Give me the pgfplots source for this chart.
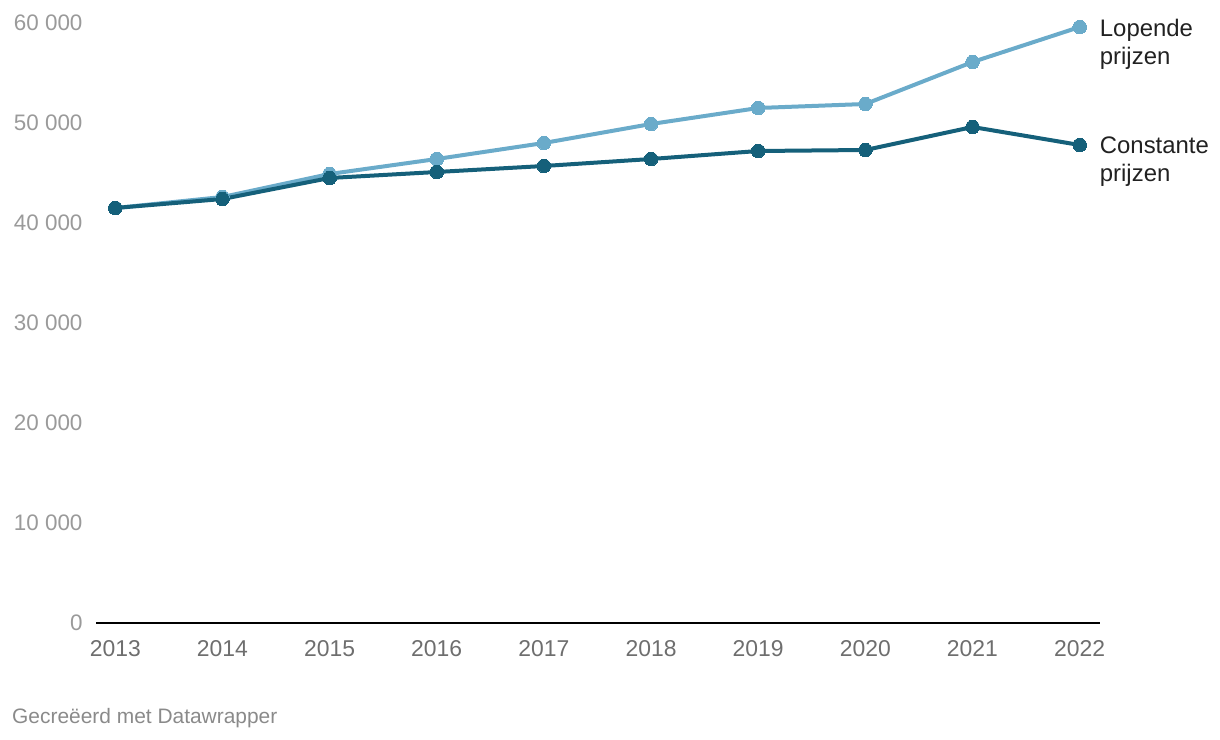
\documentclass[border=0pt]{standalone}
\usepackage{pgfplots}
\pgfplotsset{compat=1.18}
\usepackage{fontspec}
\setmainfont{Liberation Sans}
\definecolor{lightb}{HTML}{6AABCA}
\definecolor{darkb}{HTML}{15607A}
\definecolor{gridc}{HTML}{E3E3E3}
\definecolor{ylab}{HTML}{9A9A9A}
\definecolor{xlab}{HTML}{6E6E6E}
\definecolor{foot}{HTML}{8A8A8A}
\begin{document}
\begin{tikzpicture}
\path[use as bounding box] (0bp,0bp) rectangle (1220bp,740bp);
\begin{axis}[
  at={(96bp,117bp)}, anchor=south west,
  scale only axis, width=1004bp, height=600bp,
  xmin=2012.82, xmax=2022.19,
  ymin=0, ymax=60000,
  clip=false,
  axis line style={draw=none},
  axis x line*=bottom,
  axis y line=none,
  ytick={10000,20000,30000,40000,50000,60000},
  xtick={2013,...,2022},
  tick style={draw=none},
  ymajorgrids, grid style={gridc, line width=1.5bp},
  /pgf/number format/assume math mode=true,
  /pgf/number format/1000 sep={\ },
  xticklabel={\pgfmathprintnumber[1000 sep={}]{\tick}},
  xticklabel style={font=\fontsize{23}{27}\selectfont, text=xlab, anchor=north, yshift=-14bp},
  every axis plot/.append style={line width=4bp},
]
\addplot[draw=none, forget plot] coordinates {(2013,0)};
\draw[black, line width=2bp] (axis cs:2012.82,0) -- (axis cs:2022.19,0);
\foreach \v/\l in {0/0,10000/10 000,20000/20 000,30000/30 000,40000/40 000,50000/50 000,60000/60 000}{
  \edef\tmp{\noexpand\node[anchor=east, text=ylab, font=\noexpand\fontsize{22.5}{26}\noexpand\selectfont] at (axis cs:2012.82,\v) [xshift=-10bp] {\l};}
  \tmp
}
\addplot[color=lightb, mark=*, mark size=6.8bp, mark options={line width=0bp, fill=lightb}] coordinates {
(2013,41500) (2014,42600) (2015,44900) (2016,46400) (2017,48000)
(2018,49900) (2019,51500) (2020,51900) (2021,56100) (2022,59600)};
\addplot[color=darkb, mark=*, mark size=6.8bp, mark options={line width=0bp, fill=darkb}] coordinates {
(2013,41500) (2014,42400) (2015,44500) (2016,45100) (2017,45700)
(2018,46400) (2019,47200) (2020,47300) (2021,49600) (2022,47800)};
\node[anchor=west, align=left, text=black!87, font=\fontsize{24}{28}\selectfont, inner sep=0pt] at (axis cs:2022,59600) [xshift=20bp, yshift=-17bp] {Lopende\\prijzen};
\node[anchor=west, align=left, text=black!87, font=\fontsize{24}{28}\selectfont, inner sep=0pt] at (axis cs:2022,47800) [xshift=20bp, yshift=-17bp] {Constante\\prijzen};
\end{axis}
\node[anchor=west, text=foot, font=\fontsize{21}{25}\selectfont, inner sep=0pt] at (12bp,22bp) {Gecreëerd met Datawrapper};
\end{tikzpicture}
\end{document}
